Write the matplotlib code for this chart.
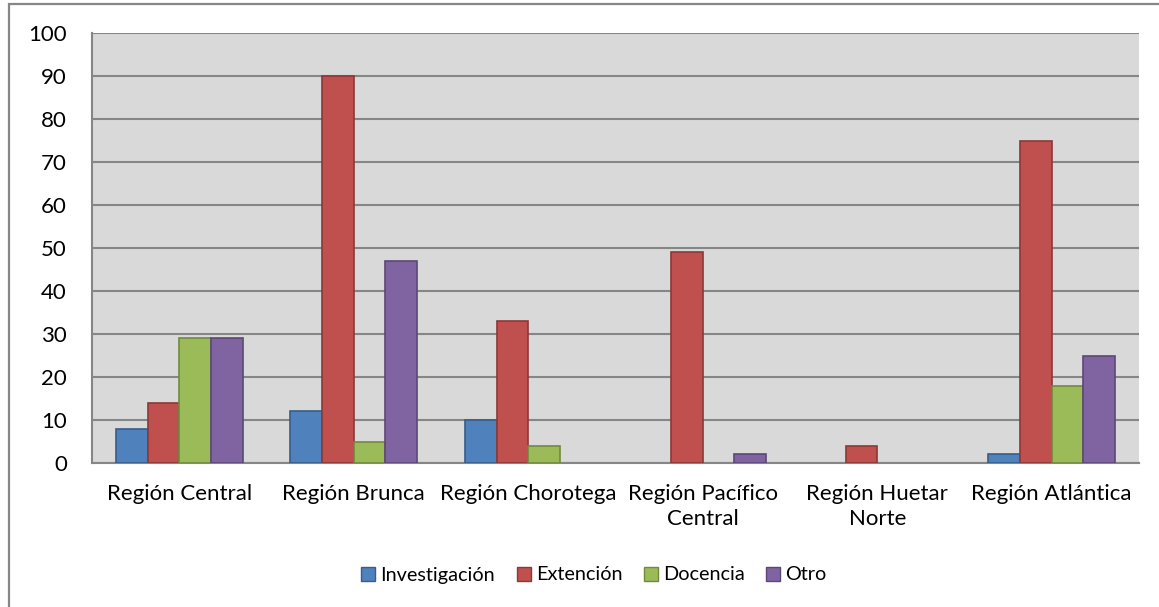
import matplotlib
matplotlib.use("Agg")
import matplotlib.pyplot as plt
from matplotlib.patches import Rectangle, Patch
import numpy as np

regiones = ["Región Central", "Región Brunca", "Región Chorotega",
            "Región Pacífico\nCentral", "Región Huetar\nNorte", "Región Atlántica"]
series = ["Investigación", "Extención", "Docencia", "Otro"]
investigacion = [8, 12, 10, 0, 0, 2]
extencion = [14, 90, 33, 49, 4, 75]
docencia = [29, 5, 4, 0, 0, 18]
otro = [29, 47, 0, 2, 0, 25]

colores = ["#4F81BD", "#C0504D", "#9BBB59", "#8064A2"]
bordes = ["#385D8A", "#8C3836", "#71893F", "#5C4776"]

plt.rcParams['font.family'] = ['Lato', 'DejaVu Sans']

W, H = 1159, 607
fig = plt.figure(figsize=(W / 100, H / 100), dpi=100)

# outer chart frame (cut at right and bottom)
fig.patches.append(Rectangle((9 / W, -0.05), 1.2, 1 - 4 / H + 0.05,
                             transform=fig.transFigure, fill=False,
                             edgecolor="#868686", linewidth=1.6, clip_on=False))

# heading of the page, only its descenders show above the frame
fig.text(13 / W, 1.0 + 5 / H, "proyectos por región", family="Liberation Serif",
         fontweight="bold", fontsize=19, ha="left", va="baseline")

ax = fig.add_axes([92 / W, 1 - 463 / H, (1139 - 92) / W, (463 - 33) / H])
ax.set_facecolor("#D9D9D9")

x = np.arange(len(regiones))
w = 1 / 5.5
datos = [investigacion, extencion, docencia, otro]
for i, vals in enumerate(datos):
    vals = np.array(vals)
    m = vals > 0
    ax.bar(x[m] + (i - 1.5) * w, vals[m], width=w, color=colores[i],
           edgecolor=bordes[i], linewidth=1.2, zorder=3)

ax.set_xlim(-0.5, len(regiones) - 0.5)
ax.set_ylim(0, 100)
ax.set_yticks(range(0, 101, 10))
ax.yaxis.grid(True, color="#868686", linewidth=1.5, zorder=0)
ax.set_axisbelow(True)
for s in ["top", "right"]:
    ax.spines[s].set_visible(False)
for s in ["left", "bottom"]:
    ax.spines[s].set_color("#868686")
    ax.spines[s].set_linewidth(1.5)

ax.set_xticks(x)
ax.set_xticklabels(regiones, fontsize=16, linespacing=1.3)
ax.tick_params(axis="x", length=0, pad=15)
ax.tick_params(axis="y", length=0, pad=18, labelsize=16)

handles = [Patch(facecolor=colores[i], edgecolor=bordes[i], label=series[i])
           for i in range(4)]
fig.legend(handles=handles, loc="center", bbox_to_anchor=(594 / W, 1 - 575 / H),
           ncol=4, frameon=False, fontsize=14.3, handlelength=0.7, handleheight=0.7,
           handletextpad=0.25, columnspacing=1.1)

fig.savefig("out.png", dpi=100)
